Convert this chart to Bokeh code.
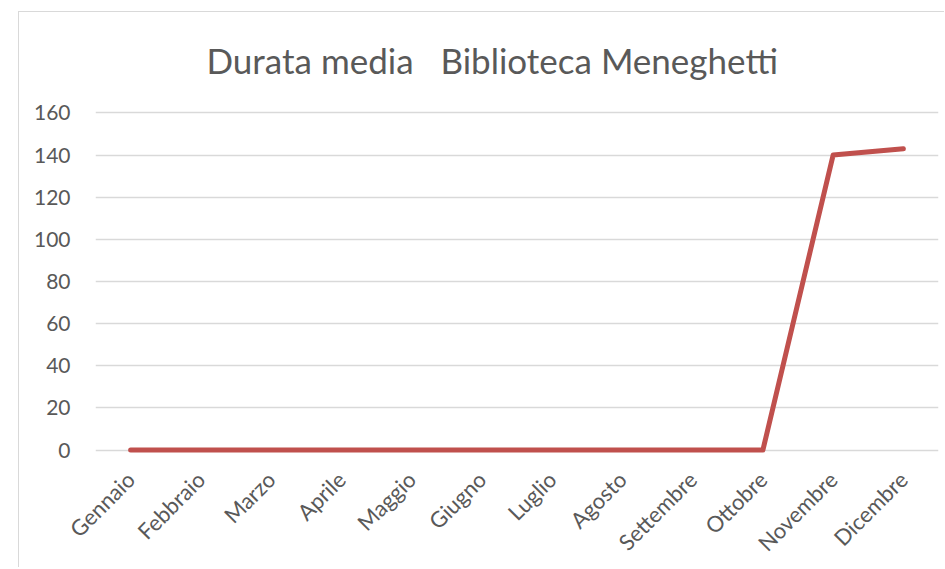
from math import pi
from bokeh.plotting import figure
from bokeh.models import Range1d, FactorRange, ColumnDataSource
from bokeh.embed import file_html
from bokeh.resources import INLINE

months = ["Gennaio", "Febbraio", "Marzo", "Aprile", "Maggio", "Giugno",
          "Luglio", "Agosto", "Settembre", "Ottobre", "Novembre", "Dicembre"]
durata = [0, 0, 0, 0, 0, 0, 0, 0, 0, 0, 140, 143]
y_ticks = [0, 20, 40, 60, 80, 100, 120, 140, 160]
title_text = "Durata media\u00a0\u00a0\u00a0Biblioteca Meneghetti"

FONT = "Lato"
GRAY_TXT = "#595959"
GRID = "#d9d9d9"

p = figure(x_range=FactorRange(*months), y_range=Range1d(-4, 164),
           width=926, height=556, output_backend="svg", toolbar_location=None,
           min_border_left=76, min_border_right=7, min_border_top=90,
           min_border_bottom=110, margin=(11, 0, 0, 18),
           styles={"border-left": "1px solid #d9d9d9", "border-top": "1px solid #d9d9d9"})

p.outline_line_color = None
p.background_fill_color = "white"
p.border_fill_color = "white"

src = ColumnDataSource(dict(x=months, y=durata))
p.line("x", "y", source=src, line_color="#C0504D", line_width=5,
       line_cap="round", line_join="round")

p.yaxis.ticker = y_ticks
p.yaxis.axis_line_color = None
p.yaxis.major_tick_line_color = None
p.yaxis.minor_tick_line_color = None
p.yaxis.major_label_standoff = 19
p.yaxis.major_label_text_font = FONT
p.yaxis.major_label_text_font_size = "21px"
p.yaxis.major_label_text_color = GRAY_TXT

p.xaxis.axis_line_color = None
p.xaxis.major_tick_line_color = None
p.xaxis.minor_tick_line_color = None
p.xaxis.major_label_orientation = pi / 4
p.xaxis.major_label_standoff = 11
p.xaxis.major_label_text_font = FONT
p.xaxis.major_label_text_font_size = "22px"
p.xaxis.major_label_text_color = GRAY_TXT

p.xgrid.grid_line_color = None
p.ygrid.grid_line_color = GRID
p.ygrid.grid_line_width = 1.5
p.ygrid.ticker = y_ticks

p.title.text = title_text
p.title.text_font = FONT
p.title.text_font_size = "35px"
p.title.text_font_style = "normal"
p.title.text_color = GRAY_TXT
p.title.align = "left"
p.title.offset = 111
p.title.standoff = 48

open("out.html", "w").write(file_html(p, INLINE))
